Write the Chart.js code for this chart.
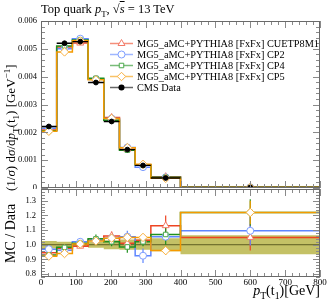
<!DOCTYPE html>
<html><head><meta charset="utf-8">
<script src="https://cdn.jsdelivr.net/npm/chart.js@4.4.1/dist/chart.umd.min.js"></script>
<style>
html,body{margin:0;padding:0;background:#fff;}
#wrap{position:relative;width:332px;height:301px;overflow:hidden;font-family:'Liberation Serif',serif;}
canvas{position:absolute;left:0;}
.lbl{position:absolute;white-space:nowrap;color:#000;line-height:1;}
sub,sup{font-size:70%;line-height:0;}
.rot{transform-origin:left top;transform:rotate(-90deg);}
</style></head><body>
<div id="wrap">
<canvas id="top" width="332" height="189" style="top:0"></canvas>
<canvas id="bot" width="332" height="113" style="top:188px"></canvas>
<div class="lbl" style="left:41px;top:3px;font-size:12.5px;">Top quark <i>p</i><sub>T</sub>, √<span style="text-decoration:overline"><i>s</i></span> = 13 TeV</div>
<div class="lbl rot" style="left:4px;top:191px;font-size:13px;">(1/<i>σ</i>) d<i>σ</i>/d<i>p</i><sub>T</sub>(t<sub>1</sub>) [GeV<sup>−1</sup>]</div>
<div class="lbl rot" style="left:4px;top:263px;font-size:14px;">MC / Data</div>
<div class="lbl" style="right:12px;top:284px;font-size:14px;"><i>p</i><sub>T</sub>(t<sub>1</sub>)[GeV]</div>
</div>
<script>
// ---- data ----
const binEdges = [0,45,90,135,180,225,270,315,400,800];
const binCenters = [22.5,67.5,112.5,157.5,202.5,247.5,292.5,357.5,600];
const seriesNames = ['MG5_aMC+PYTHIA8 [FxFx] CUETP8M1','MG5_aMC+PYTHIA8 [FxFx] CP2','MG5_aMC+PYTHIA8 [FxFx] CP4','MG5_aMC+PYTHIA8 [FxFx] CP5'];
const dataName = 'CMS Data';
const cmsData = [0.00221,0.00520,0.00526,0.00379,0.00239,0.00138,0.00081,0.00036,0.000020];
const cmsRelErr = [0.025,0.02,0.012,0.02,0.03,0.035,0.035,0.045,0.065];
const mcCUETP8M1 = [0.002088,0.00507,0.005207,0.003904,0.002533,0.001394,0.000834,0.000407,0.000021];
const mcCP2 = [0.002144,0.005002,0.005365,0.003904,0.002498,0.001456,0.000749,0.00038,0.0000219];
const mcCP4 = [0.002055,0.005106,0.005313,0.003942,0.002438,0.001359,0.000826,0.000385,0.0000244];
const mcCP5 = [0.002038,0.004888,0.005286,0.003885,0.002498,0.001449,0.000851,0.000346,0.0000244];
const ratioCUETP8M1 = [0.945,0.975,0.99,1.03,1.06,1.01,1.03,1.13,1.05];
const ratioCP2 = [0.97,0.962,1.02,1.03,1.045,1.055,0.925,1.055,1.095];
const ratioCP4 = [0.93,0.982,1.01,1.04,1.02,0.985,1.02,1.07,1.22];
const ratioCP5 = [0.922,0.94,1.005,1.025,1.045,1.05,1.05,0.96,1.22];
const errCUETP8M1 = [0.01,0.01,0.01,0.01,0.03,0.02,0.02,0.07,0.09];
const errCP2 = [0.01,0.01,0.01,0.012,0.02,0.04,0.05,0.03,0.1];
const errCP4 = [0.015,0.01,0.01,0.03,0.03,0.04,0.03,0.07,0.09];
const errCP5 = [0.01,0.01,0.01,0.01,0.02,0.02,0.02,0.03,0.08];
const topYTicks = [0,0.001,0.002,0.003,0.004,0.005,0.006];
const ratioYTicks = [0.8,0.9,1.0,1.1,1.2,1.3];
const xTicks = [0,100,200,300,400,500,600,700,800];

// ---- styles ----
const lineColors = ['#ee4422','#5f86ff','#1f8f1f','#f59a00'];
const markColors = ['#f27a68','#7d9dff','#4aa84a','#f8b040'];
const markStyles = ['triangle','circle','rect','rectRot'];
const markRadius = [4,3.5,3.2,4.2];
const mcTop = [mcCUETP8M1,mcCP2,mcCP4,mcCP5];
const mcRatio = [ratioCUETP8M1,ratioCP2,ratioCP4,ratioCP5];
const mcErr = [errCUETP8M1,errCP2,errCP4,errCP5];
const FONT = "'Liberation Serif', serif";
Chart.defaults.font.family = FONT;
Chart.defaults.font.size = 9;
Chart.defaults.color = '#000';

function stepsFromZero(vals){ return [{x:binEdges[0],y:0}].concat(binEdges.slice(1).map((e,i)=>({x:e,y:vals[i]}))); }
function steps(vals){ return [{x:binEdges[0],y:vals[0]}].concat(binEdges.slice(1).map((e,i)=>({x:e,y:vals[i]}))); }
function centerPts(vals){ return binCenters.map((c,i)=>({x:c,y:vals[i]})); }
function hSegs(vals){ const o=[]; vals.forEach((v,i)=>{o.push({x:binEdges[i],y:v},{x:binEdges[i+1],y:v},{x:binEdges[i+1],y:null});}); return o; }
function vBars(vals,errs){ const o=[]; vals.forEach((v,i)=>{o.push({x:binCenters[i],y:v-errs[i]},{x:binCenters[i],y:v+errs[i]},{x:binCenters[i],y:null});}); return o; }
function noPad(s){ s.paddingTop=0; s.paddingBottom=0; s.paddingLeft=0; s.paddingRight=0; }

function frameTicks(yMajors, majorLen, minorLen){
  return {
    id:'frame',
    afterDraw(chart){
      const {ctx, chartArea:a, scales} = chart;
      const x = scales.x, y = scales.y;
      ctx.save();
      ctx.strokeStyle = '#8a8a8a'; ctx.lineWidth = 1;
      const mk = (scale, majors, horiz) => {
        const step = (majors[1]-majors[0])/5;
        const start = Math.ceil((scale.min-1e-9)/step), end = Math.floor((scale.max+1e-9)/step);
        for(let k=start;k<=end;k++){
          const v = k*step;
          const isMajor = majors.some(m=>Math.abs(m-v)<step*0.01);
          const L = isMajor?majorLen:minorLen;
          const p = Math.round(scale.getPixelForValue(v))+0.5;
          ctx.beginPath();
          if(horiz){ ctx.moveTo(p,a.bottom); ctx.lineTo(p,a.bottom-L); ctx.moveTo(p,a.top); ctx.lineTo(p,a.top+L); }
          else { ctx.moveTo(a.left,p); ctx.lineTo(a.left+L,p); ctx.moveTo(a.right,p); ctx.lineTo(a.right-L,p); }
          ctx.stroke();
        }
      };
      mk(x, xTicks, true);
      mk(y, yMajors, false);
      ctx.strokeStyle = '#6a6a6a';
      ctx.strokeRect(a.left+0.5, a.top+0.5, a.right-a.left-1, a.bottom-a.top-1);
      ctx.restore();
    }
  };
}

const legendPlugin = {
  id:'legendDraw',
  afterDraw(chart){
    const ctx = chart.ctx;
    ctx.save();
    ctx.font = "10.3px " + FONT;
    ctx.textBaseline = 'middle';
    const names = seriesNames.concat([dataName]);
    names.forEach((n,i)=>{
      const yy = 43.5 + i*11;
      const col = i<4?lineColors[i]:'#000';
      ctx.globalAlpha = 0.6;
      ctx.strokeStyle = col; ctx.lineWidth = 1.5;
      ctx.beginPath(); ctx.moveTo(110,yy); ctx.lineTo(133,yy); ctx.stroke();
      ctx.globalAlpha = 1;
      if(i<4){
        ctx.fillStyle = '#fff'; ctx.strokeStyle = markColors[i]; ctx.lineWidth = 1;
        Chart.helpers.drawPoint(ctx,{pointStyle:markStyles[i],radius:markRadius[i],borderWidth:1,rotation:0},121.5,yy);
      } else {
        ctx.fillStyle = '#000'; ctx.strokeStyle = '#000';
        Chart.helpers.drawPoint(ctx,{pointStyle:'circle',radius:2.3,borderWidth:1,rotation:0},121.5,yy);
      }
      ctx.fillStyle = '#000';
      ctx.fillText(n, 137, yy+0.5);
    });
    ctx.restore();
  }
};

// ---- top chart ----
const topSets = [];
mcTop.forEach((vals,i)=>{
  topSets.push({type:'line',data:stepsFromZero(vals),stepped:'after',borderColor:lineColors[i],borderWidth:1.5,pointRadius:0,fill:false,order:-(10+i)});
});
mcTop.forEach((vals,i)=>{
  topSets.push({type:'line',data:centerPts(vals),showLine:false,pointStyle:markStyles[i],pointRadius:markRadius[i],pointBorderWidth:1,pointBorderColor:markColors[i],pointBackgroundColor:'#fff',order:-(20+i)});
});
topSets.push({type:'line',data:hSegs(cmsData),spanGaps:false,borderColor:'#000',borderWidth:1.3,pointRadius:0,fill:false,order:-30});
topSets.push({type:'line',data:centerPts(cmsData),showLine:false,pointStyle:'circle',pointRadius:2.4,pointBackgroundColor:'#000',pointBorderColor:'#000',order:-31});

new Chart(document.getElementById('top'),{
  type:'line',
  data:{datasets:topSets},
  options:{
    responsive:false, animation:false, events:[],
    layout:{autoPadding:false,padding:{left:0,right:12,top:21,bottom:1}},
    plugins:{legend:{display:false},tooltip:{enabled:false}},
    scales:{
      x:{type:'linear',min:0,max:800,grid:{display:false,drawTicks:false},border:{display:false},ticks:{display:false},afterFit:s=>{s.height=0;noPad(s);}},
      y:{type:'linear',min:0,max:0.006,grid:{display:false,drawTicks:false},border:{display:false},
         afterBuildTicks:s=>{s.ticks=topYTicks.map(v=>({value:v}));},
         ticks:{padding:4,font:{size:8.5},callback:v=>v===0?'0':v.toFixed(3)},
         afterFit:s=>{s.width=41;noPad(s);}}
    }
  },
  plugins:[frameTicks(topYTicks,7,4),legendPlugin]
});

// ---- ratio chart ----
const botSets = [];
botSets.push({type:'line',data:steps(cmsRelErr.map(e=>1-e)),stepped:'after',borderWidth:0,pointRadius:0,fill:false,order:-1});
botSets.push({type:'line',data:steps(cmsRelErr.map(e=>1+e)),stepped:'after',borderWidth:0,pointRadius:0,fill:'-1',backgroundColor:'#c4c166',order:-2});
botSets.push({type:'line',data:[{x:0,y:1},{x:800,y:1}],borderColor:'#5e5e22',borderWidth:1,pointRadius:0,fill:false,order:-3});
mcRatio.forEach((vals,i)=>{
  botSets.push({type:'line',data:steps(vals),stepped:'after',borderColor:lineColors[i],borderWidth:1.5,pointRadius:0,fill:false,order:-(10+i)});
});
mcRatio.forEach((vals,i)=>{
  botSets.push({type:'line',data:vBars(vals,mcErr[i]),spanGaps:false,borderColor:lineColors[i],borderWidth:1.2,pointRadius:0,fill:false,order:-(20+i)});
});
mcRatio.forEach((vals,i)=>{
  botSets.push({type:'line',data:centerPts(vals),showLine:false,pointStyle:markStyles[i],pointRadius:markRadius[i],pointBorderWidth:1,pointBorderColor:markColors[i],pointBackgroundColor:'#fff',order:-(30+i)});
});

new Chart(document.getElementById('bot'),{
  type:'line',
  data:{datasets:botSets},
  options:{
    responsive:false, animation:false, events:[],
    layout:{autoPadding:false,padding:{left:0,right:12,top:1,bottom:0}},
    plugins:{legend:{display:false},tooltip:{enabled:false}},
    scales:{
      x:{type:'linear',min:0,max:800,grid:{display:false,drawTicks:false},border:{display:false},
         afterBuildTicks:s=>{s.ticks=xTicks.map(v=>({value:v}));},
         ticks:{padding:0,autoSkip:false,maxRotation:0,font:{size:9}},
         afterFit:s=>{s.height=24;noPad(s);}},
      y:{type:'linear',min:0.78,max:1.38,grid:{display:false,drawTicks:false},border:{display:false},
         afterBuildTicks:s=>{s.ticks=ratioYTicks.map(v=>({value:v}));},
         ticks:{padding:5,font:{size:8.5},callback:v=>v.toFixed(1)},
         afterFit:s=>{s.width=41;noPad(s);}}
    }
  },
  plugins:[frameTicks(ratioYTicks,7,4)]
});
</script>
</body></html>
